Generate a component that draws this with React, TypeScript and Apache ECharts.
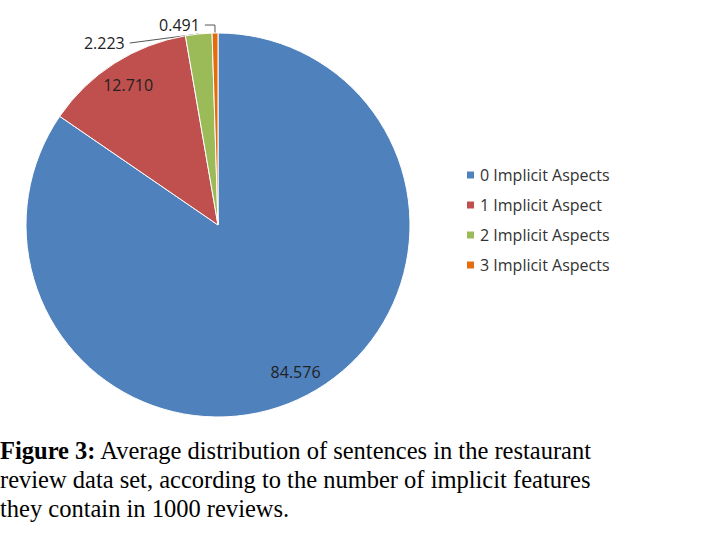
import { useEffect, useRef } from 'react';
import * as echarts from 'echarts';

const categories = ['0 Implicit Aspects', '1 Implicit Aspect', '2 Implicit Aspects', '3 Implicit Aspects'];
const values = [84.576, 12.71, 2.223, 0.491];
const colors = ['#4F81BD', '#C0504D', '#9BBB59', '#E46C0A'];
const captionLines = [
    'Average distribution of sentences in the restaurant',
    'review data set, according to the number of implicit features',
    'they contain in 1000 reviews.',
];

const App = () => {
    const chartRef = useRef(null);

    useEffect(() => {
        if (chartRef.current) {
            const myChart = echarts.init(chartRef.current, null, { renderer: 'svg' });
            const data = categories.map((name, i) => ({
                name,
                value: values[i],
                itemStyle: { color: colors[i] },
            }));
            const labelFont = { fontFamily: 'Open Sans', fontSize: 16, color: '#222' };

            const option = {
                animation: false,
                legend: {
                    orient: 'vertical',
                    left: 460,
                    top: 162,
                    itemWidth: 9,
                    itemHeight: 9,
                    itemGap: 14,
                    icon: 'rect',
                    textStyle: { fontFamily: 'Open Sans', fontSize: 16, color: '#333' },
                    data: categories,
                },
                series: [
                    {
                        type: 'pie',
                        center: [218, 225],
                        radius: [0, 192],
                        startAngle: 90,
                        clockwise: true,
                        itemStyle: { borderColor: '#fff', borderWidth: 1 },
                        data: data.map((d, i) => ({
                            ...d,
                            label: i < 2 ? { show: false } : {
                                show: true,
                                position: 'outside',
                                ...labelFont,
                                formatter: (p: any) => p.value.toFixed(3),
                            },
                            labelLine: i < 2 ? { show: false } : {
                                show: true,
                                length: 8,
                                length2: 10,
                                lineStyle: { color: '#555', width: 1 },
                            },
                        })),
                    },
                    {
                        type: 'pie',
                        silent: true,
                        center: [218, 225],
                        radius: [135, 192],
                        startAngle: 90,
                        clockwise: true,
                        legendHoverLink: false,
                        itemStyle: { color: 'transparent' },
                        data: data.map((d, i) => ({
                            name: d.name,
                            value: d.value,
                            itemStyle: { color: 'transparent' },
                            label: i < 2 ? {
                                show: true,
                                position: 'inside',
                                ...labelFont,
                                formatter: (p: any) => p.value.toFixed(3),
                            } : { show: false },
                        })),
                    },
                ],
                graphic: [
                    {
                        type: 'text',
                        left: 0,
                        top: 436,
                        style: {
                            text: '{b|Figure 3:} ' + captionLines[0] + '\n' + captionLines[1] + '\n' + captionLines[2],
                            font: '24.5px "Liberation Serif"',
                            fill: '#000',
                            lineHeight: 29,
                            rich: {
                                b: { fontWeight: 'bold', fontFamily: 'Liberation Serif', fontSize: 24.5 },
                            },
                        },
                    },
                ],
            };

            myChart.setOption(option);
            return () => {
                myChart.dispose();
            };
        }
    }, []);

    return <div ref={chartRef} style={{ position: 'fixed', left: 0, top: 0, width: '722px', height: '554px', background: '#fff' }} />;
};

export default App;
